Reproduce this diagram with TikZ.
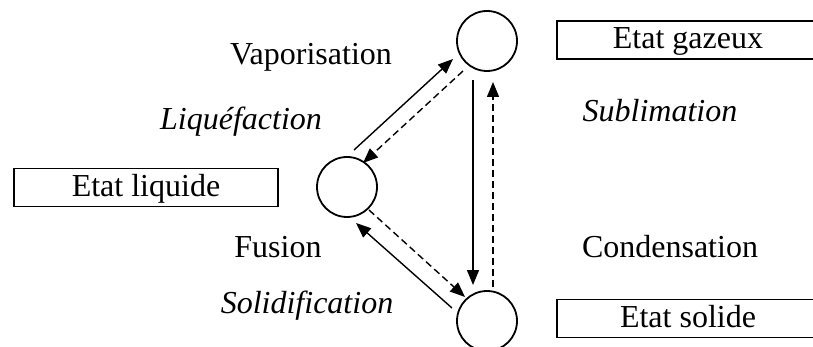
\documentclass[tikz,border=0pt]{standalone}
\usepackage{fontspec}
\setmainfont{Liberation Serif}
\usetikzlibrary{arrows.meta}
\tikzset{
  state/.style={circle, draw, line width=1.8pt, minimum size=60pt, inner sep=0pt},
  box/.style={draw, line width=1.7pt, inner sep=0pt, text height=24pt, text depth=6pt, minimum height=38pt},
  lbl/.style={anchor=base, inner sep=0pt},
  solidarrow/.style={line width=1.4pt, -{Triangle[length=15pt,width=12pt]}},
  dasharrow/.style={line width=1.4pt, dash pattern=on 7pt off 4pt, -{Triangle[length=15pt,width=12pt]}},
  every node/.append style={font=\fontsize{32}{38}\selectfont}
}
\begin{document}
\begin{tikzpicture}[x=1pt,y=-1pt]
\useasboundingbox (0,0) rectangle (813,347);
% states
\node[state] (g) at (487,41) {};
\node[state] (l) at (347,187) {};
\node[state] (s) at (487,321) {};
% boxes
\node[box, minimum width=262pt] (bg) at (688,40) {Etat gazeux};
\node[box, minimum width=264pt] (bl) at (146,187.5) {Etat liquide};
\node[box, minimum width=262pt] (bs) at (688,318.5) {Etat solide};
% labels
\node[lbl] (vap) at (311,65) {Vaporisation};
\node[lbl] (liq) at (241,130) {\itshape Liquéfaction};
\node[lbl] (fus) at (278,258) {Fusion};
\node[lbl] (sol) at (307,313) {\itshape Solidification};
\node[lbl] (sub) at (660,122) {\itshape Sublimation};
\node[lbl] (con) at (670,258) {Condensation};
% arrows
\draw[solidarrow] ([shift={(7,-37)}]l.center) -- ([shift={(-34,18)}]g.center);
\draw[dasharrow] ([shift={(-24,30)}]g.center) -- ([shift={(16,-24)}]l.center);
\draw[solidarrow] ([shift={(-14,39)}]g.center) -- ([shift={(-14,-36)}]s.center);
\draw[dasharrow] ([shift={(6,-34)}]s.center) -- ([shift={(6,41)}]g.center);
\draw[dasharrow] ([shift={(22,23)}]l.center) -- ([shift={(-22,-24)}]s.center);
\draw[solidarrow] ([shift={(-35,-13)}]s.center) -- ([shift={(9,36)}]l.center);
\end{tikzpicture}
\end{document}
